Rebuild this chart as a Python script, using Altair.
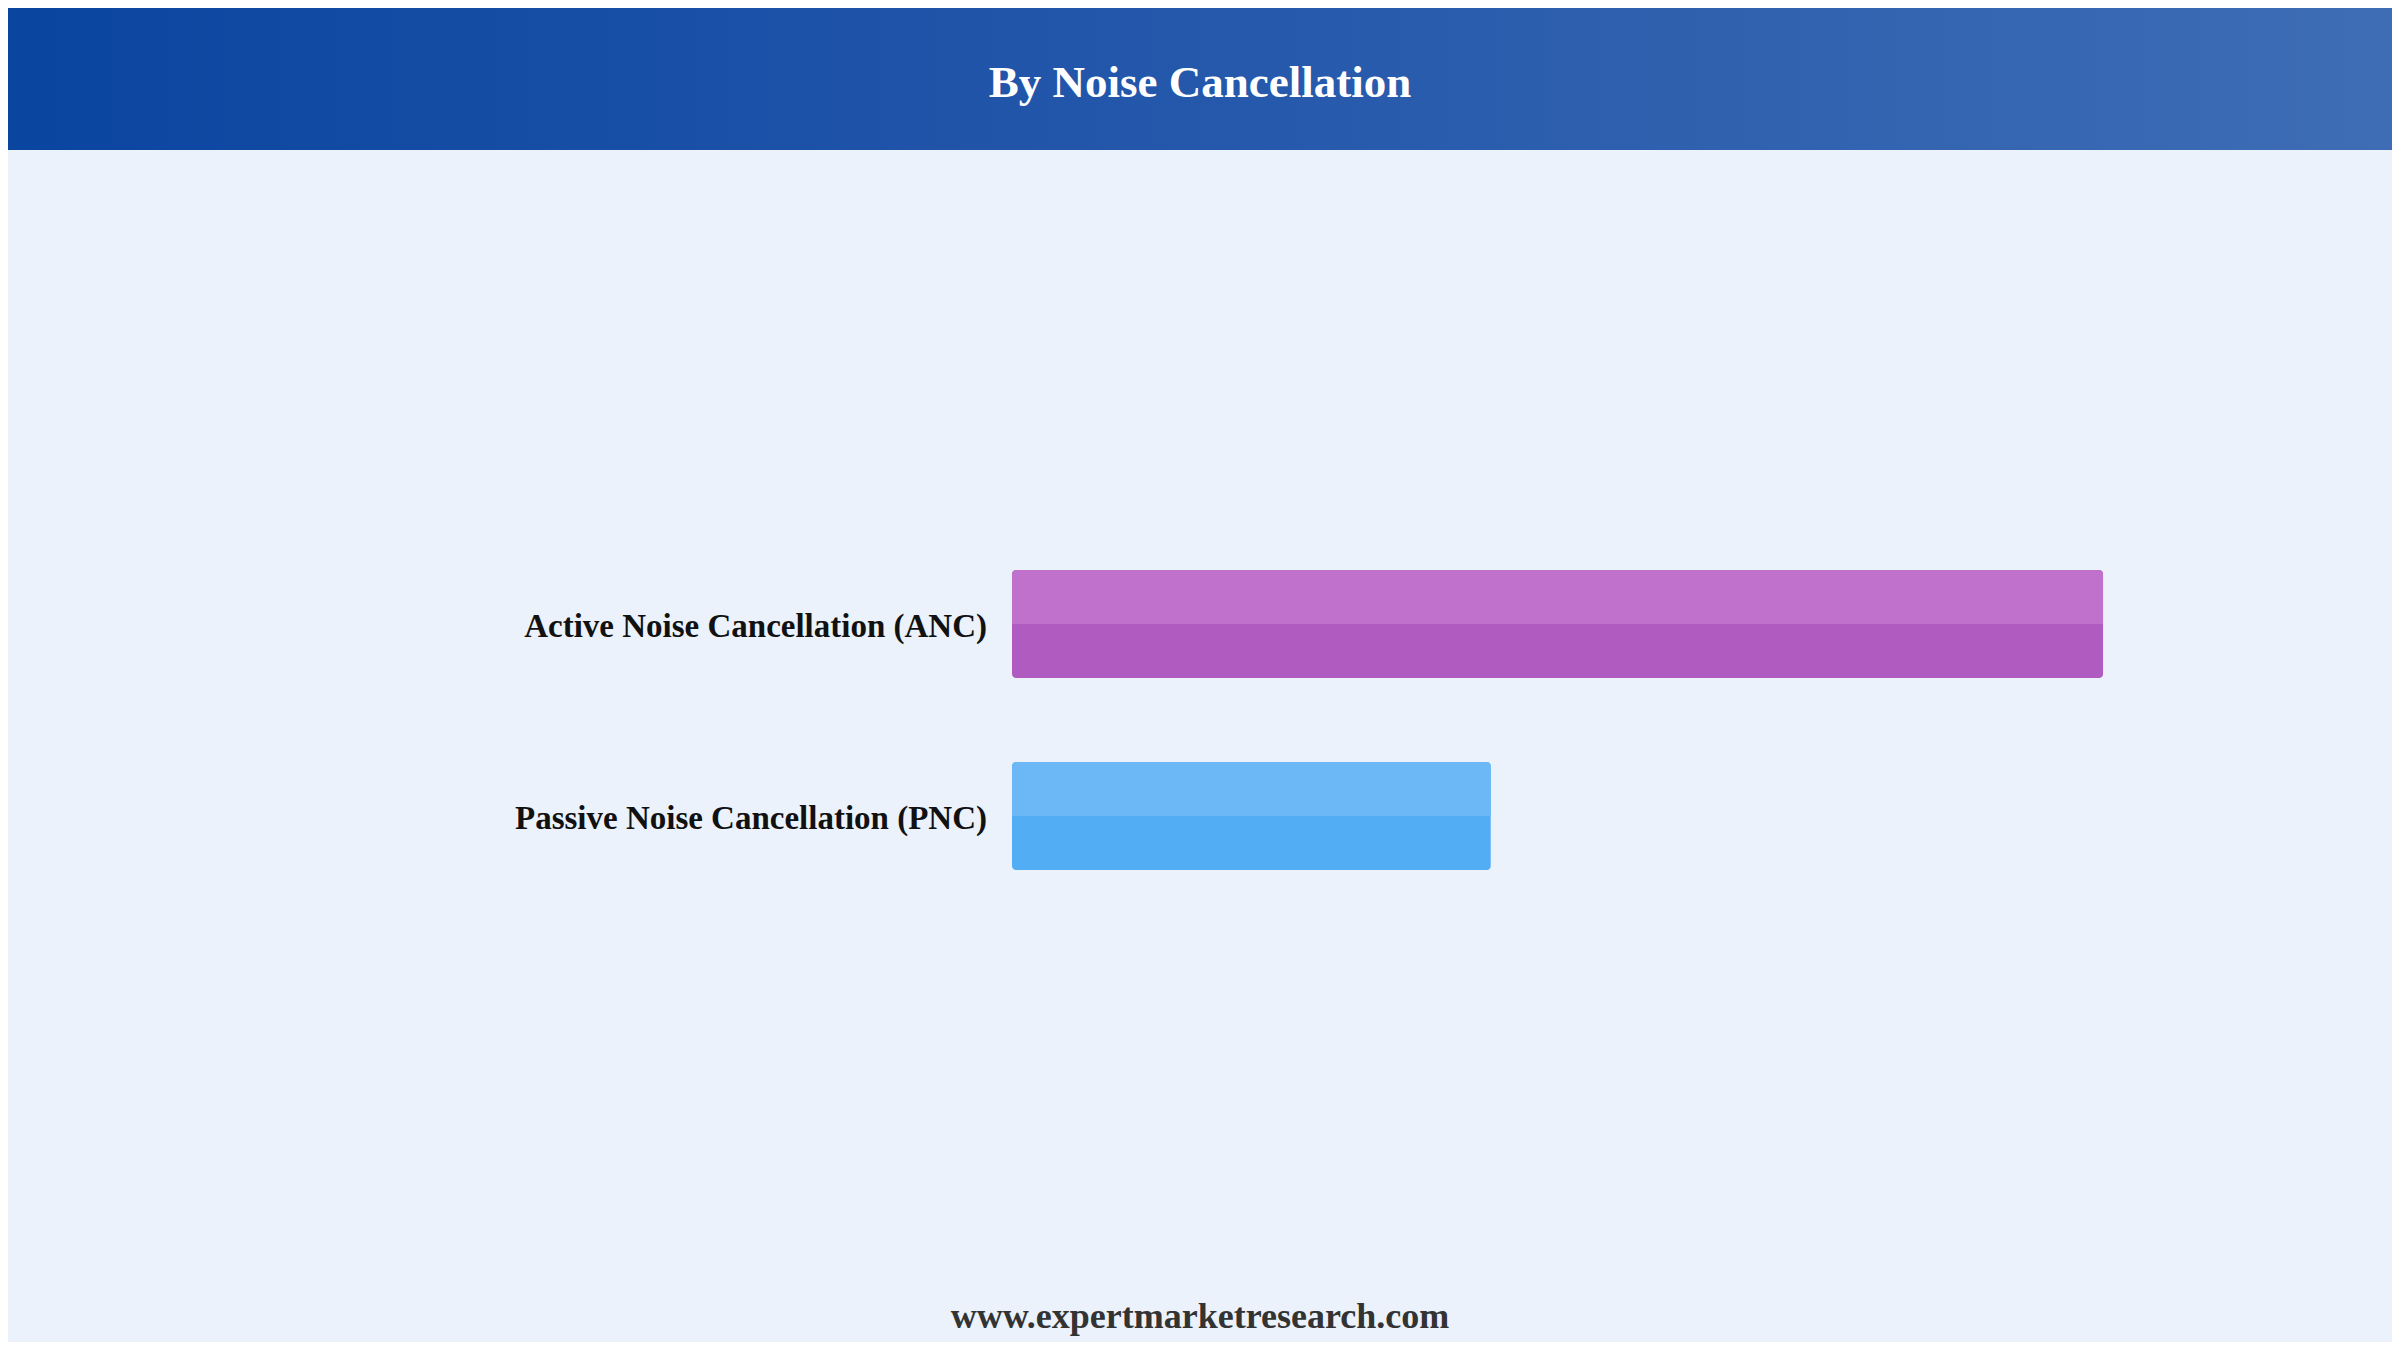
import altair as alt
import pandas as pd

# ---- data ----
categories = ["Active Noise Cancellation (ANC)", "Passive Noise Cancellation (PNC)"]
values = [69.5, 30.5]
colors_bottom = ["#B05BC0", "#52ADF4"]
colors_top = ["#BF71CB", "#6CB8F6"]
title_text = "By Noise Cancellation"
footer_text = "www.expertmarketresearch.com"

W, H = 2384, 1334
FONT = "Liberation Serif"

df = pd.DataFrame({"category": categories, "value": values,
                   "top": colors_top, "bottom": colors_bottom})
one = pd.DataFrame({"k": [0]})

xscale = alt.Scale(domain=[0, 100], range=[1004, 2574])
yscale = alt.Scale(domain=categories, range=[520, 904],
                   paddingInner=0.4375, paddingOuter=0.21875)

header = alt.Chart(one).mark_rect(
    color=alt.Gradient(
        gradient="linear",
        stops=[alt.GradientStop(color="#0A45A0", offset=0),
               alt.GradientStop(color="#2256AA", offset=0.45),
               alt.GradientStop(color="#3E6DB5", offset=1)],
        x1=0, x2=1, y1=0, y2=0)
).encode(x=alt.value(0), x2=alt.value(W), y=alt.value(0), y2=alt.value(142))

title = alt.Chart(one).mark_text(
    font=FONT, fontSize=45, fontWeight="bold", color="#FFFFFF",
    align="center", baseline="alphabetic"
).encode(x=alt.value(1192), y=alt.value(89), text=alt.value(title_text))

footer = alt.Chart(one).mark_text(
    font=FONT, fontSize=36, fontWeight="bold", color="#333333",
    align="center", baseline="alphabetic"
).encode(x=alt.value(1192), y=alt.value(1320), text=alt.value(footer_text))

bars = alt.Chart(df).mark_bar(cornerRadius=4).encode(
    x=alt.X("value:Q", scale=xscale, axis=None),
    y=alt.Y("category:N", scale=yscale, axis=None, sort=categories),
    color=alt.Color("bottom:N", scale=None),
)

bars_top = alt.Chart(df).mark_bar(
    height=54, yOffset=-27, cornerRadiusTopLeft=4, cornerRadiusTopRight=4
).encode(
    x=alt.X("value:Q", scale=xscale, axis=None),
    y=alt.Y("category:N", scale=yscale, axis=None, sort=categories),
    color=alt.Color("top:N", scale=None),
)

labels = alt.Chart(df).mark_text(
    font=FONT, fontSize=33, fontWeight="bold", color="#111111",
    align="right", baseline="alphabetic", dy=13
).encode(
    x=alt.value(979),
    y=alt.Y("category:N", scale=yscale, axis=None, sort=categories),
    text="category:N",
)

chart = alt.layer(header, title, bars, bars_top, labels, footer).properties(
    width=W, height=H, padding=0, autosize=alt.AutoSizeParams(type="none"),
    background="#EBF2FC",
).configure_view(stroke=None)

chart.save("out.html", embed_options={"renderer": "svg", "actions": False})
